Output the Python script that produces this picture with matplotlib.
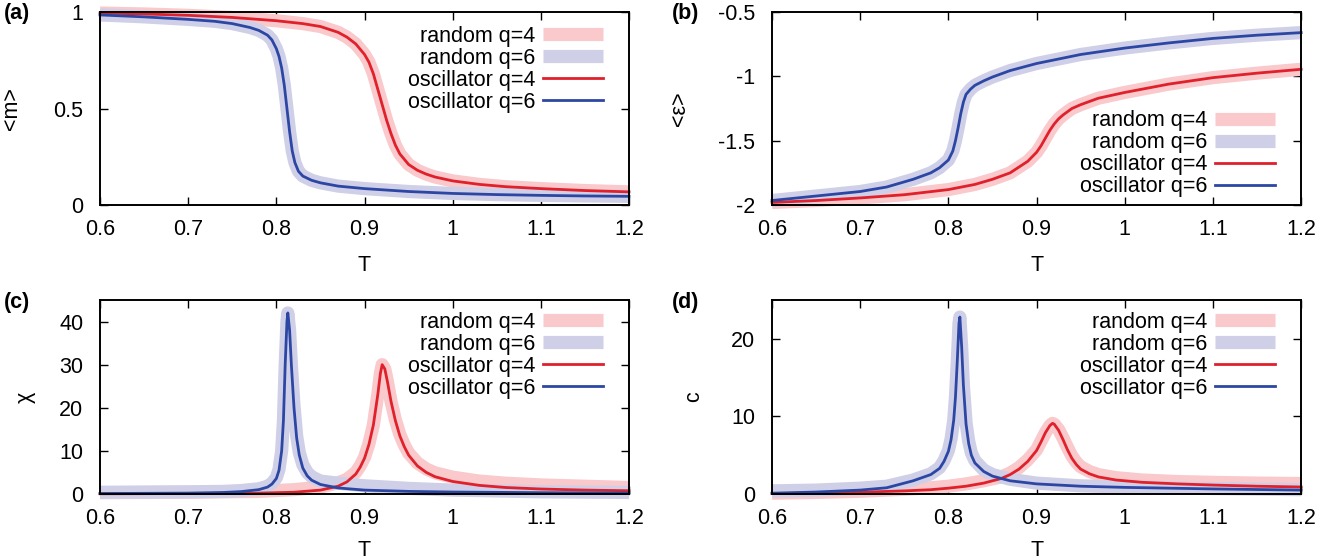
"""
Order parameter, energy, susceptibility and specific heat vs temperature.
"""

import matplotlib
matplotlib.use('Agg')
import matplotlib.pyplot as plt

plt.rcParams['font.family'] = ['Liberation Sans', 'DejaVu Sans']
plt.rcParams['axes.unicode_minus'] = False

PINK = '#f9c9cc'
LAVENDER = '#cfcfe8'
RED = '#e0202a'
BLUE = '#2c47a3'

# (a) magnetisation
T_m4 = [0.60, 0.65, 0.70, 0.75, 0.80, 0.83, 0.85, 0.87, 0.88, 0.89, 0.90,
        0.905, 0.91, 0.915, 0.92, 0.925, 0.93, 0.935, 0.94, 0.95, 0.96,
        0.97, 0.98, 1.00, 1.03, 1.06, 1.10, 1.15, 1.20]
m_osc_q4 = [0.995, 0.99, 0.983, 0.972, 0.955, 0.94, 0.925, 0.895, 0.87,
            0.835, 0.78, 0.74, 0.68, 0.60, 0.52, 0.44, 0.37, 0.31, 0.265,
            0.21, 0.18, 0.16, 0.145, 0.125, 0.107, 0.095, 0.085, 0.075,
            0.068]
m_rnd_q4 = m_osc_q4

T_m6 = [0.60, 0.65, 0.70, 0.73, 0.75, 0.77, 0.78, 0.79, 0.795, 0.80, 0.803,
        0.806, 0.809, 0.812, 0.815, 0.818, 0.821, 0.825, 0.83, 0.84, 0.85,
        0.87, 0.90, 0.95, 1.00, 1.05, 1.10, 1.15, 1.20]
m_osc_q6 = [0.985, 0.975, 0.962, 0.952, 0.94, 0.92, 0.905, 0.88, 0.855,
            0.81, 0.77, 0.71, 0.62, 0.50, 0.38, 0.28, 0.22, 0.175, 0.15,
            0.128, 0.115, 0.098, 0.085, 0.07, 0.06, 0.054, 0.05, 0.047,
            0.045]
m_rnd_q6 = m_osc_q6

# (b) energy
T_e4 = [0.60, 0.65, 0.70, 0.75, 0.80, 0.83, 0.85, 0.87, 0.89, 0.90, 0.905,
        0.91, 0.915, 0.92, 0.925, 0.93, 0.94, 0.95, 0.97, 1.00, 1.05, 1.10,
        1.15, 1.20]
e_osc_q4 = [-1.98, -1.965, -1.945, -1.92, -1.88, -1.84, -1.80, -1.75, -1.66,
            -1.59, -1.54, -1.48, -1.42, -1.37, -1.33, -1.30, -1.25, -1.22,
            -1.17, -1.125, -1.06, -1.01, -0.975, -0.945]
e_rnd_q4 = e_osc_q4

T_e6 = [0.60, 0.65, 0.70, 0.73, 0.76, 0.78, 0.79, 0.80, 0.805, 0.808, 0.811,
        0.814, 0.817, 0.82, 0.825, 0.83, 0.84, 0.85, 0.87, 0.90, 0.95, 1.00,
        1.05, 1.10, 1.15, 1.20]
e_osc_q6 = [-1.965, -1.93, -1.895, -1.86, -1.80, -1.75, -1.71, -1.65, -1.58,
            -1.50, -1.40, -1.29, -1.20, -1.14, -1.10, -1.07, -1.035, -1.005,
            -0.955, -0.90, -0.83, -0.78, -0.74, -0.705, -0.68, -0.66]
e_rnd_q6 = e_osc_q6

# (c) susceptibility
T_x4 = [0.60, 0.70, 0.78, 0.82, 0.85, 0.87, 0.88, 0.89, 0.895, 0.90, 0.905,
        0.91, 0.915, 0.918, 0.92, 0.923, 0.926, 0.93, 0.935, 0.94, 0.945,
        0.95, 0.96, 0.97, 0.98, 1.00, 1.03, 1.06, 1.10, 1.15, 1.20]
x_osc_q4 = [0.05, 0.1, 0.2, 0.4, 0.9, 1.8, 2.8, 4.6, 6.2, 8.3, 11.5, 16, 23,
            28, 30, 29, 26, 21.5, 17, 13.5, 11, 9, 6.5, 5, 4, 2.9, 2.0, 1.5,
            1.15, 0.9, 0.75]
x_rnd_q4 = [0.3, 0.4, 0.6, 1.0, 1.6, 2.6, 3.4, 5.0, 6.5, 8.5, 11.7, 16, 23,
            28, 30, 29, 26, 21.5, 17.2, 13.8, 11.4, 9.5, 7.2, 5.8, 4.9, 3.9,
            3.0, 2.5, 2.1, 1.8, 1.5]

T_x6 = [0.60, 0.65, 0.70, 0.74, 0.76, 0.78, 0.79, 0.795, 0.80, 0.803, 0.806,
        0.808, 0.81, 0.812, 0.813, 0.815, 0.817, 0.82, 0.823, 0.826, 0.83,
        0.835, 0.84, 0.85, 0.87, 0.90, 0.95, 1.00, 1.10, 1.20]
x_osc_q6 = [0.1, 0.15, 0.2, 0.35, 0.55, 1.0, 1.6, 2.3, 3.6, 5.5, 10, 17, 30,
            40, 42, 38, 30, 20, 13, 9, 6, 4.2, 3.2, 2.2, 1.4, 0.9, 0.6, 0.45,
            0.3, 0.22]
x_rnd_q6 = [0.4, 0.45, 0.5, 0.6, 0.8, 1.2, 1.8, 2.5, 3.8, 5.7, 10, 17, 30,
            40, 42, 38, 30, 20.5, 13.5, 9.6, 6.8, 5.0, 4.0, 3.0, 2.5, 1.9,
            1.3, 0.9, 0.5, 0.35]

# (d) specific heat
T_c4 = [0.60, 0.65, 0.70, 0.75, 0.78, 0.80, 0.82, 0.84, 0.86, 0.87, 0.88,
        0.89, 0.90, 0.905, 0.91, 0.915, 0.918, 0.92, 0.925, 0.93, 0.935,
        0.94, 0.945, 0.95, 0.96, 0.97, 0.99, 1.02, 1.06, 1.10, 1.15, 1.20]
c_osc_q4 = [0.05, 0.12, 0.22, 0.4, 0.55, 0.75, 1.0, 1.4, 2.0, 2.5, 3.2, 4.2,
            5.6, 6.7, 7.9, 8.8, 9.1, 9.0, 8.2, 7.0, 5.7, 4.6, 3.8, 3.2, 2.6,
            2.2, 1.8, 1.5, 1.3, 1.15, 1.0, 0.9]
c_rnd_q4 = [0.1, 0.2, 0.35, 0.6, 0.8, 1.0, 1.3, 1.7, 2.2, 2.7, 3.4, 4.4,
            5.7, 6.8, 7.9, 8.8, 9.1, 9.0, 8.3, 7.2, 6.0, 4.9, 4.1, 3.5, 2.9,
            2.5, 2.1, 1.8, 1.6, 1.5, 1.4, 1.35]

T_c6 = [0.60, 0.65, 0.70, 0.73, 0.76, 0.78, 0.79, 0.795, 0.80, 0.803, 0.806,
        0.808, 0.81, 0.812, 0.813, 0.815, 0.817, 0.82, 0.823, 0.826, 0.83,
        0.84, 0.85, 0.87, 0.90, 0.95, 1.00, 1.10, 1.20]
c_osc_q6 = [0.1, 0.25, 0.5, 0.8, 1.7, 2.5, 3.3, 4.2, 5.5, 7.0, 9.5, 12.5,
            17, 22, 22.8, 19, 14, 9, 6.5, 5, 4, 2.9, 2.3, 1.7, 1.3, 1.0,
            0.85, 0.65, 0.5]
c_rnd_q6 = [0.4, 0.5, 0.75, 1.0, 1.8, 2.6, 3.4, 4.3, 5.6, 7.1, 9.5, 12.5,
            17, 22, 22.8, 19, 14, 9.2, 6.8, 5.3, 4.3, 3.1, 2.5, 1.9, 1.4,
            1.05, 0.9, 0.7, 0.55]

x_ticks = [0.6, 0.7, 0.8, 0.9, 1.0, 1.1, 1.2]
x_tick_labels = ['0.6', '0.7', '0.8', '0.9', '1', '1.1', '1.2']

labels = ['random q=4', 'random q=6', 'oscillator q=4', 'oscillator q=6']

FS = 15.5


def draw_panel(ax, T4, rnd4, osc4, T6, rnd6, osc6):
    """
    Draws the two wide bands (random) and the two thin lines (oscillator).
    """
    ax.plot(T4, rnd4, color=PINK, lw=9.5, solid_capstyle='butt',
            clip_on=False, label=labels[0])
    ax.plot(T6, rnd6, color=LAVENDER, lw=9.5, solid_capstyle='butt',
            clip_on=False, label=labels[1])
    ax.plot(T4, osc4, color=RED, lw=2.0, clip_on=False, label=labels[2])
    ax.plot(T6, osc6, color=BLUE, lw=2.0, clip_on=False, label=labels[3])

    ax.set_xlim(0.6, 1.2)
    ax.set_xticks(x_ticks)
    ax.set_xticklabels(x_tick_labels)
    ax.set_xlabel('T', fontsize=FS)
    ax.tick_params(direction='in', top=True, right=True, length=6,
                   width=1.0, labelsize=FS)
    ax.tick_params(axis='x', pad=10)
    ax.tick_params(axis='y', pad=12)
    for spine in ax.spines.values():
        spine.set_linewidth(1.4)


fig = plt.figure(figsize=(13.39, 5.6), dpi=100)

ax_a = fig.add_axes([0.0747, 0.6339, 0.3951, 0.3446])
ax_b = fig.add_axes([0.5766, 0.6339, 0.3951, 0.3446])
ax_c = fig.add_axes([0.0747, 0.1179, 0.3951, 0.3464])
ax_d = fig.add_axes([0.5766, 0.1179, 0.3951, 0.3464])

draw_panel(ax_a, T_m4, m_rnd_q4, m_osc_q4, T_m6, m_rnd_q6, m_osc_q6)
ax_a.set_ylim(0, 1)
ax_a.set_yticks([0, 0.5, 1])
ax_a.set_yticklabels(['0', '0.5', '1'])
ax_a.set_ylabel('<m>', fontsize=FS)

draw_panel(ax_b, T_e4, e_rnd_q4, e_osc_q4, T_e6, e_rnd_q6, e_osc_q6)
ax_b.set_ylim(-2, -0.5)
ax_b.set_yticks([-2, -1.5, -1, -0.5])
ax_b.set_yticklabels(['-2', '-1.5', '-1', '-0.5'])
ax_b.set_ylabel('<ε>', fontsize=FS)

draw_panel(ax_c, T_x4, x_rnd_q4, x_osc_q4, T_x6, x_rnd_q6, x_osc_q6)
ax_c.set_ylim(0, 45)
ax_c.set_yticks([0, 10, 20, 30, 40])
ax_c.set_ylabel('χ', fontsize=FS)

draw_panel(ax_d, T_c4, c_rnd_q4, c_osc_q4, T_c6, c_rnd_q6, c_osc_q6)
ax_d.set_ylim(0, 25)
ax_d.set_yticks([0, 10, 20])
ax_d.set_ylabel('c', fontsize=FS)

ax_a.yaxis.set_label_coords(-0.147, 0.5)
ax_b.yaxis.set_label_coords(-0.155, 0.5)
ax_c.yaxis.set_label_coords(-0.121, 0.5)
ax_d.yaxis.set_label_coords(-0.128, 0.5)
for ax in (ax_a, ax_b):
    ax.xaxis.set_label_coords(0.5, -0.26)
for ax in (ax_c, ax_d):
    ax.xaxis.set_label_coords(0.5, -0.235)

legend_kw = dict(frameon=False, markerfirst=False, fontsize=FS,
                 handlelength=2.8, handletextpad=0.35, labelspacing=0.05,
                 borderpad=0, borderaxespad=0)
ax_a.legend(loc='upper right', bbox_to_anchor=(0.951, 0.93), **legend_kw)
ax_b.legend(loc='lower right', bbox_to_anchor=(0.951, 0.04), **legend_kw)
ax_c.legend(loc='upper right', bbox_to_anchor=(0.951, 0.94), **legend_kw)
ax_d.legend(loc='upper right', bbox_to_anchor=(0.951, 0.94), **legend_kw)

for text, x, y in [('(a)', 0.003, 0.975), ('(b)', 0.502, 0.975),
                   ('(c)', 0.003, 0.46), ('(d)', 0.502, 0.46)]:
    fig.text(x, y, text, fontsize=FS, fontweight='bold', va='center')

fig.savefig('out.png', dpi=100)
